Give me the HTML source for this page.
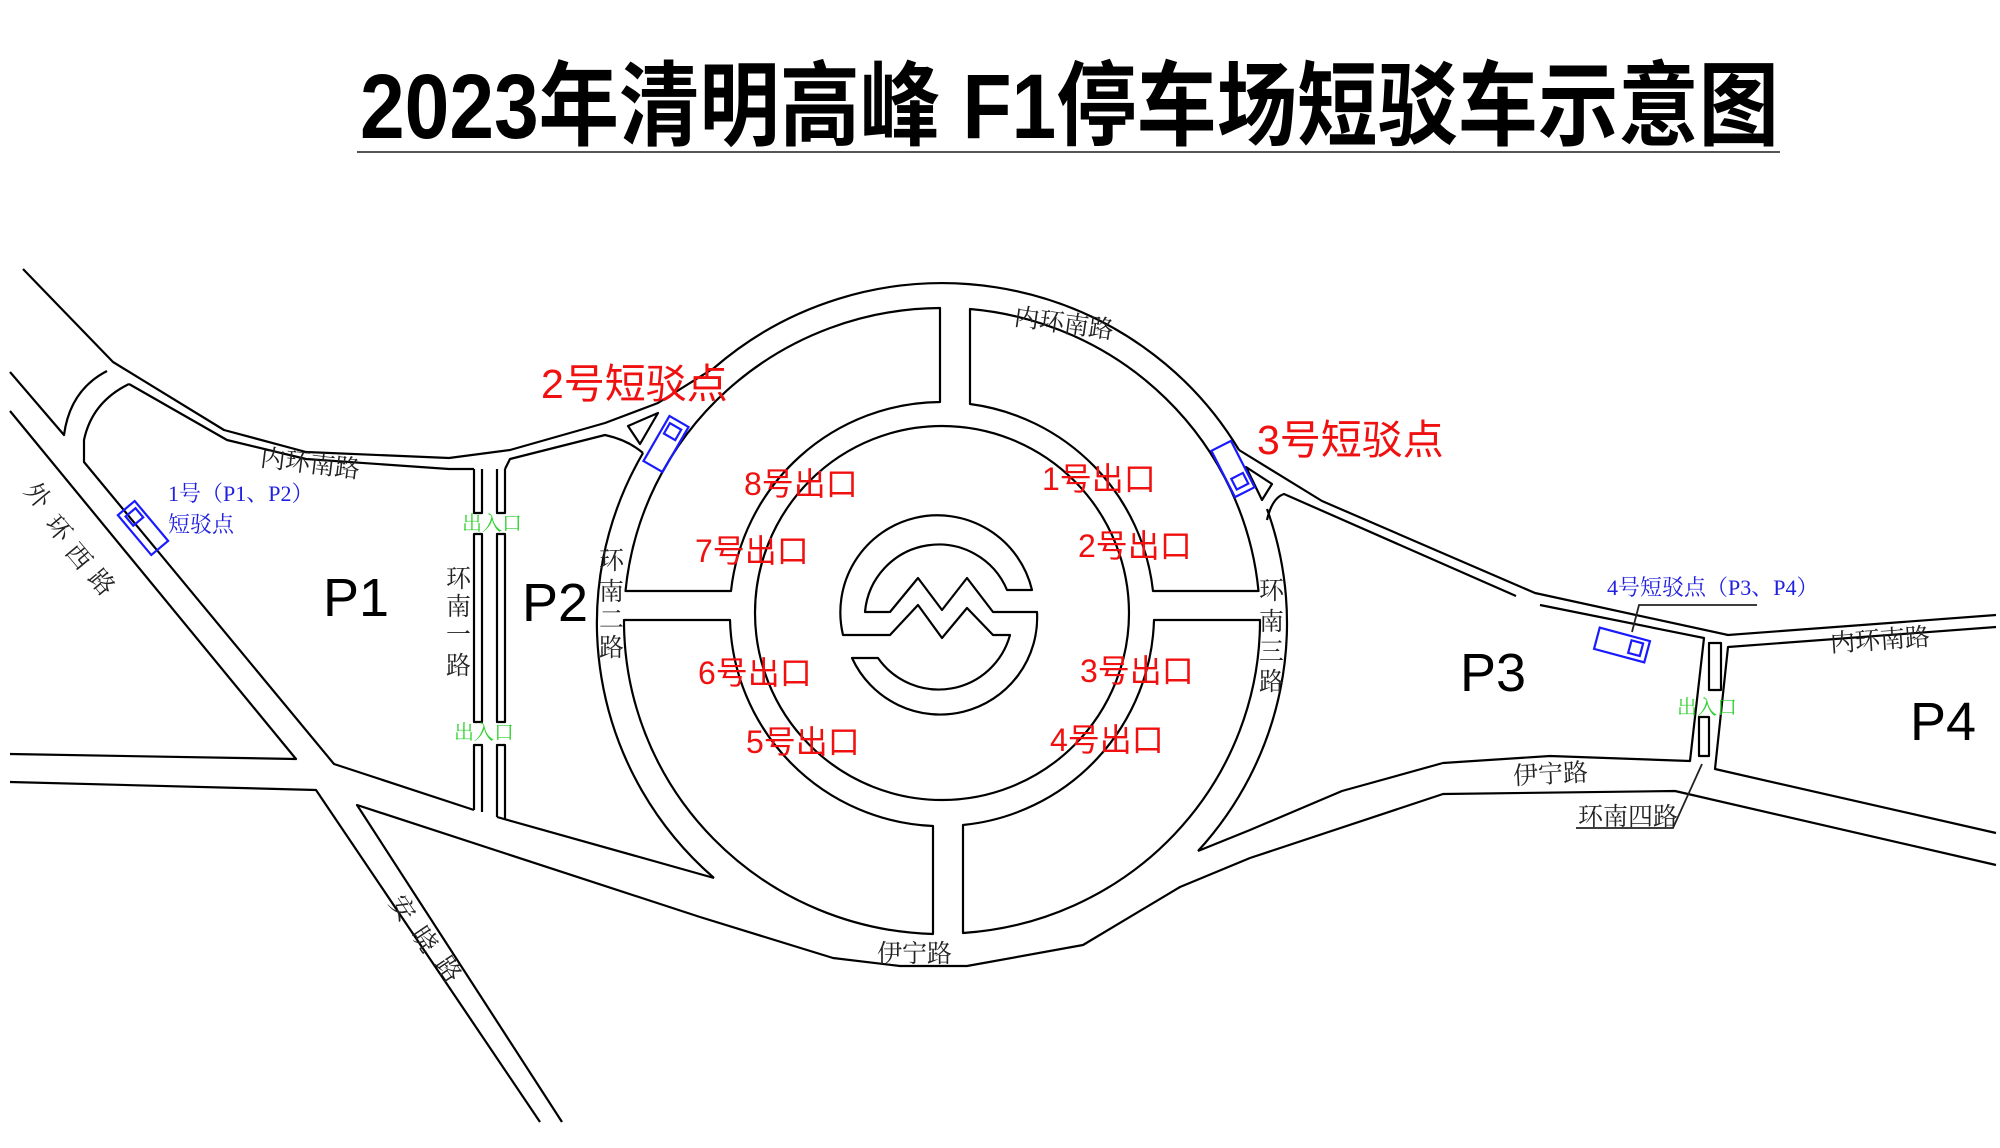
<!DOCTYPE html>
<html><head><meta charset="utf-8">
<style>
html,body{margin:0;padding:0;background:#fff;}
svg{display:block;}
.r{fill:none;stroke:#000;stroke-width:2.2;stroke-linejoin:round;}
.lbl{font-family:"Liberation Serif","Noto Serif CJK SC",serif;fill:#222;font-size:25px;}
.red{font-family:"Liberation Sans","Noto Sans CJK SC",sans-serif;fill:#f01010;}
.blue{font-family:"Liberation Serif","Noto Serif CJK SC",serif;fill:#2020e0;font-size:22px;}
.grn{font-family:"Liberation Serif","Noto Serif CJK SC",serif;fill:#30d030;font-size:20px;}
.P{font-family:"Liberation Sans",sans-serif;font-size:54px;fill:#000;}
.car rect{fill:none;stroke:#1a1aff;stroke-width:2.2;}
</style></head>
<body>
<svg width="2000" height="1148" viewBox="0 0 2000 1148" xmlns="http://www.w3.org/2000/svg">
<rect width="2000" height="1148" fill="#fff"/>
<text x="360" y="138" font-family="Liberation Sans,'Noto Sans CJK SC',sans-serif" font-size="92" font-weight="bold" fill="#000" textLength="1419" lengthAdjust="spacingAndGlyphs">2023年清明高峰 F1停车场短驳车示意图</text>
<line x1="357" y1="152" x2="1780" y2="152" stroke="#555" stroke-width="2"/>

<path class="r" d="M23,269 L113,362 L224,430 L306,452 L449,458 L510,450 L605,423 L658,403 L714,368"/>
<path class="r" d="M10,372 L64,435 Q70,390 107,371"/>
<path class="r" d="M129,384 Q92,402 84,440 L84,462 L334,764 L474,810"/>
<path class="r" d="M129,384 L227,440 L306,459 L449,469 L474,469"/>
<path class="r" d="M505,469 L510,459 L605,435 Q628,440 643,453"/>
<path class="r" d="M628,426 L658,413 L640,444 Z"/>
<path class="r" d="M10,411 L296,759 L10,754"/>
<path class="r" d="M10,782 L316,790 L540,1122"/>
<path class="r" d="M562,1122 L357,805 L700,917 L833,958 L900,966 L967,966 L1083,945 L1180,887 L1250,858 L1443,794 L1675,791 L1996,865"/>
<path class="r" d="M497,817 L714,878"/>
<path class="r" d="M474,469 L474,513 L482,513 L482,469 M497,469 L497,513 L505,513 L505,469"/>
<rect class="r" x="474" y="534" width="8" height="188"/>
<rect class="r" x="497" y="534" width="8" height="188"/>
<path class="r" d="M474,810 L474,745 L482,745 L482,812 M497,817 L497,745 L505,745 L505,819"/>

<path class="r" d="M714,878 A345 340 0 0 1 643,453"/>
<path class="r" d="M714,368 A345 340 0 0 1 1239,450"/>
<path class="r" d="M1267,509 A345 340 0 0 1 1198,851"/>
<path class="r" d="M940,308 L940,402 A212 212 0 0 0 731,591 L625.5,591 A318 313 0 0 1 940,308 Z"/>
<path class="r" d="M970,309 L970,404 A212 212 0 0 1 1153,591 L1258.5,591 A318 313 0 0 0 970,309 Z"/>
<path class="r" d="M1260,620 L1154,620 A212 212 0 0 1 963,825 L963,933 A318 313 0 0 0 1260,620 Z"/>
<path class="r" d="M933,934 L933,826 A212 212 0 0 1 730,620 L624,620 A318 313 0 0 0 933,934 Z"/>
<circle class="r" cx="942" cy="613" r="187"/>
<path class="r" d="M1032,590 A97 97 0 1 0 843,635 L890,635 L918,605 L942,638 L967,608 L993,635 L1010,635 A74 74 0 0 1 878,658 L852,658 A97 97 0 0 0 1037,612 L993,612 L967,578 L942,610 L918,578 L890,612 L865,612 A74 74 0 0 1 1007,590 Z"/>

<path class="r" d="M1239,450 L1322,501 L1535,593 L1728,635 L1996,615"/>
<path class="r" d="M1267,520 Q1272,498 1284,494 L1516,596"/>
<path class="r" d="M1540,605 L1704,638 L1690,761 L1550,756 L1443,763 L1342,791 L1250,830 L1198,851"/>
<path class="r" d="M1996,627 L1728,647 L1715,769 L1996,833"/>
<path class="r" d="M1246,467 L1272,484 L1262,500 Z"/>
<rect class="r" x="1709" y="643" width="12" height="47"/>
<rect class="r" x="1699" y="717" width="10" height="39"/>
<path fill="none" stroke="#222" stroke-width="1.8" d="M1702,764 L1673,828 L1576,828"/>
<path fill="none" stroke="#222" stroke-width="1.8" d="M1757,605 L1639,605 L1632,632"/>

<g class="car" transform="translate(143,528) rotate(50)"><rect x="-26" y="-11" width="52" height="22"/><rect x="-20" y="-7" width="12" height="13"/></g>
<g class="car" transform="translate(666,444) rotate(-60)"><rect x="-26" y="-11" width="52" height="22"/><rect x="8" y="-7" width="12" height="13"/></g>
<g class="car" transform="translate(1233,469) rotate(63)"><rect x="-26" y="-11" width="52" height="22"/><rect x="8" y="-7" width="12" height="13"/></g>
<g class="car" transform="translate(1622,645) rotate(15)"><rect x="-26" y="-11" width="52" height="22"/><rect x="8" y="-7" width="12" height="13"/></g>

<text class="P" x="323" y="616">P1</text>
<text class="P" x="522" y="621">P2</text>
<text class="P" x="1460" y="691">P3</text>
<text class="P" x="1910" y="740">P4</text>

<text class="red" x="541" y="398" font-size="41">2号短驳点</text>
<text class="red" x="1257" y="454" font-size="41">3号短驳点</text>
<g class="red" font-size="32">
<text x="744" y="495">8号出口</text>
<text x="695" y="562">7号出口</text>
<text x="698" y="684">6号出口</text>
<text x="746" y="753">5号出口</text>
<text x="1042" y="490">1号出口</text>
<text x="1078" y="557">2号出口</text>
<text x="1080" y="682">3号出口</text>
<text x="1050" y="751">4号出口</text>
</g>

<text class="blue" x="168" y="501">1号（P1、P2）</text>
<text class="blue" x="168" y="532">短驳点</text>
<text class="blue" x="1607" y="595">4号短驳点（P3、P4）</text>

<text class="grn" x="462" y="530">出入口</text>
<text class="grn" x="454" y="739">出入口</text>
<text class="grn" x="1677" y="714">出入口</text>

<text class="lbl" x="260" y="473" transform="rotate(7 318 465)">内环南路</text>
<text class="lbl" x="1014" y="333" transform="rotate(8 1072 324)">内环南路</text>
<text class="lbl" x="1830" y="648" transform="rotate(-4 1888 640)">内环南路</text>
<text class="lbl" x="877" y="962">伊宁路</text>
<text class="lbl" x="1513" y="782" transform="rotate(-3 1560 773)">伊宁路</text>
<text class="lbl" x="1578" y="825" font-size="23">环南四路</text>
<g class="lbl" font-size="22">
<text x="446" y="587">环</text><text x="446" y="615">南</text><text x="446" y="643">一</text><text x="446" y="674">路</text>
<text x="599" y="569">环</text><text x="599" y="600">南</text><text x="599" y="628">二</text><text x="599" y="656">路</text>
<text x="1259" y="599">环</text><text x="1259" y="630">南</text><text x="1259" y="660">三</text><text x="1259" y="690">路</text>
</g>
<g class="lbl" font-size="26">
<text transform="translate(38,495) rotate(50)" text-anchor="middle" dy="9">外</text>
<text transform="translate(59,528) rotate(50)" text-anchor="middle" dy="9">环</text>
<text transform="translate(79,556) rotate(50)" text-anchor="middle" dy="9">西</text>
<text transform="translate(102,582) rotate(50)" text-anchor="middle" dy="9">路</text>
<text transform="translate(403,908) rotate(56)" text-anchor="middle" dy="9">安</text>
<text transform="translate(425,939) rotate(56)" text-anchor="middle" dy="9">晓</text>
<text transform="translate(449,969) rotate(56)" text-anchor="middle" dy="9">路</text>
</g>
</svg>
</body></html>
